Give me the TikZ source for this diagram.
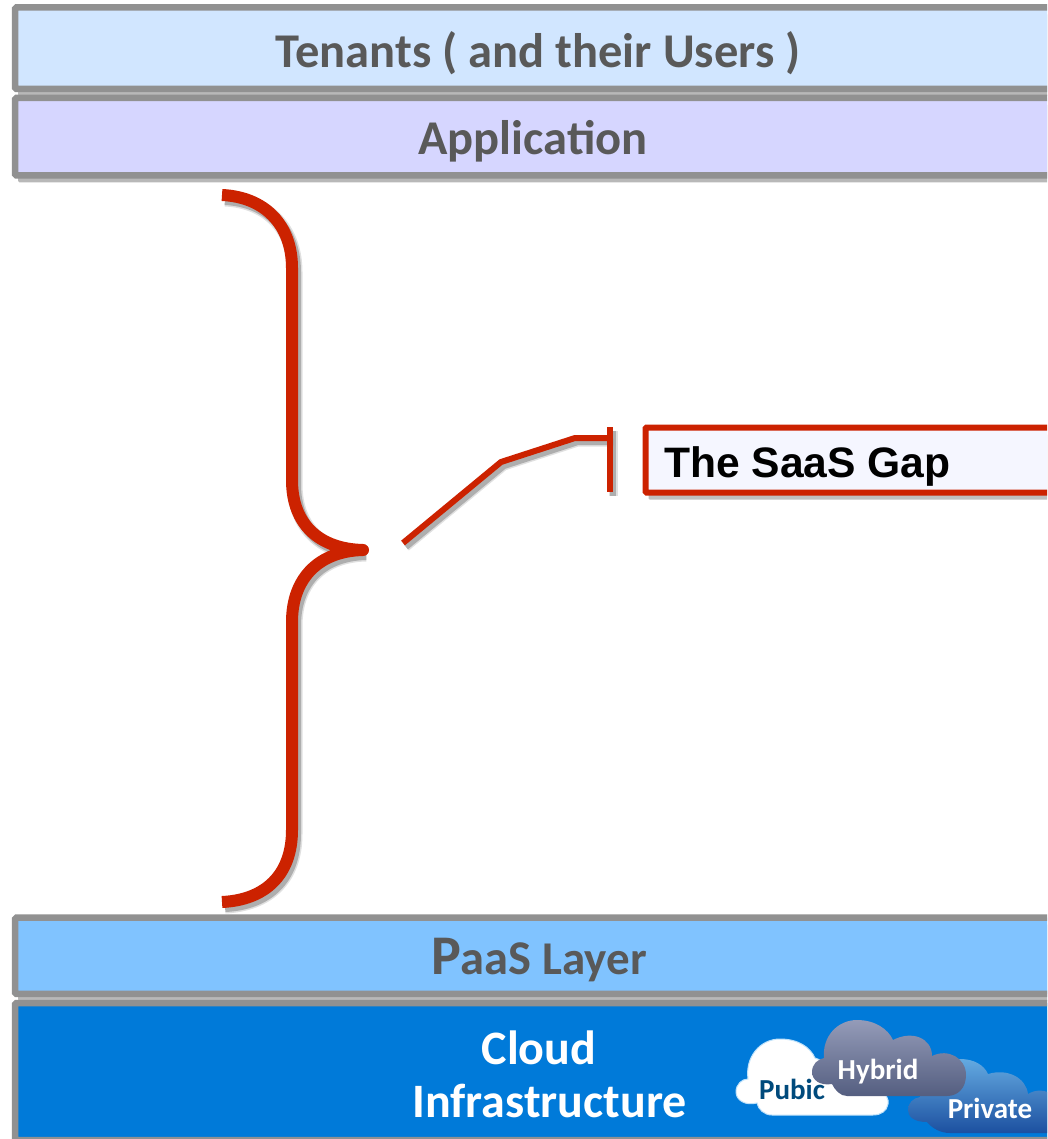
\documentclass[tikz,border=0pt]{standalone}
\usepackage{fontspec}
\setmainfont{Carlito}
\newfontfamily\arialfont{Liberation Sans}
\usetikzlibrary{shadows}
\definecolor{gapred}{HTML}{CC2200}
\definecolor{framegray}{HTML}{919191}
\definecolor{labelgray}{HTML}{595959}
\tikzset{
  layerbox/.style={draw=framegray,line width=6.5pt,rounded corners=1.5pt,minimum width=1046pt,inner sep=0pt,
    drop shadow={shadow xshift=3pt,shadow yshift=-7pt,opacity=.28,fill=black}},
  layertext/.style={font=\bfseries\fontsize{48.5}{52}\selectfont,text=labelgray,inner sep=0pt},
  infratext/.style={font=\bfseries\fontsize{48}{52}\selectfont,text=white,inner sep=0pt},
  cloudtext/.style={font=\bfseries\fontsize{29}{32}\selectfont,text=white,inner sep=0pt},
  redline/.style={draw=gapred,line width=#1,
    preaction={draw=black,draw opacity=.12,line width=#1+3,transform canvas={shift={(3pt,-4pt)}}},
    preaction={draw=black,draw opacity=.22,line width=#1,transform canvas={shift={(3pt,-4pt)}}}}
}
\begin{document}
\begin{tikzpicture}[x=1pt,y=-1pt]
\useasboundingbox[fill=white] (0,0) rectangle (1047,1139);
\clip (0,0) rectangle (1047,1139);
\node[layerbox,fill={rgb,255:red,209;green,230;blue,255},minimum height=81.5pt] (tenants) at (538,48.2) {};
\node[layerbox,fill={rgb,255:red,214;green,214;blue,255},minimum height=77.5pt] (application) at (538,136.7) {};
\node[layerbox,fill={rgb,255:red,128;green,195;blue,255},minimum height=76.3pt] (paas) at (538,955.8) {};
\node[layerbox,fill={rgb,255:red,0;green,122;blue,217},minimum height=137pt] (infra) at (538,1071.5) {};
\node[layertext] (tenantslabel) at (538,53.5) {Tenants ( and their Users )};
\node[layertext] (applabel) at (533,141.5) {Application};
\node[layertext,anchor=base] (paaslabel) at (539,974) {{\fontsize{56}{56}\selectfont P}aaS {\fontsize{47}{50}\selectfont Layer}};
\node[infratext] (infraone) at (539,1047.5) {Cloud};
\node[infratext] (infratwo) at (549.5,1101) {Infrastructure};
\draw[redline=12pt,line join=round] (222,195) .. controls (265,197) and (292,225) .. (292,268) -- (292,480)
  .. controls (292,525) and (320,549) .. (363,550) .. controls (320,551) and (292,577) .. (292,622)
  -- (292,830) .. controls (292,875) and (265,900) .. (222,902);
\node[draw=gapred,line width=6pt,fill={rgb,255:red,245;green,246;blue,255},anchor=west,minimum width=500pt,
  minimum height=65pt,rounded corners=1pt,inner sep=0pt,
  drop shadow={shadow xshift=3pt,shadow yshift=-7pt,opacity=.25,fill=black}] (saasgap) at (642.5,460) {};
\node[anchor=base west,inner sep=0pt,font=\arialfont\bfseries\fontsize{42.6}{46}\selectfont] (gaplabel) at (664,477) {The SaaS Gap};
\coordinate (gaptail) at (403,543);
\coordinate (gapbend) at (501,462);
\coordinate (gapelbow) at (575,438);
\coordinate (gapbar) at (610,438);
\coordinate (gaptop) at (610,427);
\coordinate (gapbot) at (610,492);
\draw[redline=6pt] (gaptail) -- (gapbend) -- (gapelbow) -- (gapbar);
\draw[redline=6pt] (gaptop) -- (gapbot);
\path[draw={rgb,255:red,190;green,225;blue,250},line width=1pt,fill=white] (772,1115)
  .. controls (764,1115) and (758,1109) .. (757,1103)
  .. controls (745,1106) and (736,1100) .. (736,1092)
  .. controls (736,1084) and (742,1079) .. (748,1079)
  .. controls (745,1057) and (760,1039) .. (780,1039)
  .. controls (798,1039) and (810,1047) .. (815,1058)
  -- (860,1075) -- (880,1090)
  .. controls (886,1094) and (889,1099) .. (888,1104)
  .. controls (887,1111) and (881,1115) .. (873,1115) -- cycle;
\node[cloudtext,text={rgb,255:red,0;green,74;blue,124}] (pubiclabel) at (792,1089) {Pubic};
\path[top color={rgb,255:red,100;green,170;blue,225},bottom color={rgb,255:red,28;green,80;blue,160}] (927,1122)
  .. controls (913,1122) and (908,1116) .. (908,1110)
  .. controls (908,1103) and (913,1098) .. (920,1097)
  .. controls (918,1075) and (938,1059) .. (960,1059)
  .. controls (974,1059) and (984,1065) .. (988,1074)
  .. controls (1008,1068) and (1026,1078) .. (1028,1094)
  .. controls (1036,1089) and (1045,1090) .. (1052,1094)
  -- (1052,1133) -- (950,1133) .. controls (940,1133) and (932,1128) .. (927,1122) -- cycle;
\node[cloudtext] (privatelabel) at (990,1108) {Private};
\path[top color={rgb,255:red,148;green,155;blue,184},bottom color={rgb,255:red,84;green,94;blue,128}] (847,1096)
  .. controls (840,1096) and (835,1090) .. (832,1084)
  .. controls (820,1086) and (812,1080) .. (812,1072)
  .. controls (812,1064) and (818,1059) .. (824,1058)
  .. controls (822,1036) and (838,1020) .. (857,1020)
  .. controls (875,1020) and (888,1029) .. (893,1040)
  .. controls (912,1030) and (932,1038) .. (932,1056)
  .. controls (948,1048) and (966,1058) .. (966,1075)
  .. controls (966,1088) and (958,1096) .. (947,1096) -- cycle;
\node[cloudtext] (hybridlabel) at (878,1072) {Hybrid};
\end{tikzpicture}
\end{document}
